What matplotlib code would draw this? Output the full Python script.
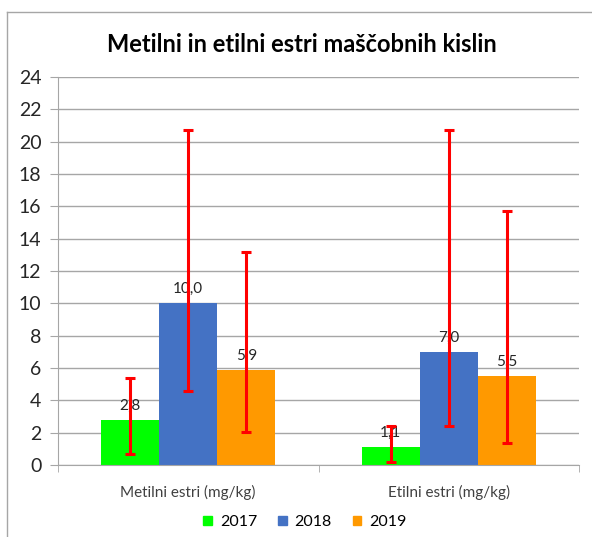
import numpy as np
import matplotlib.pyplot as plt
from matplotlib.patches import Patch
from matplotlib.lines import Line2D

plt.rcParams['font.family'] = ['Lato', 'DejaVu Sans']

categories = ['Metilni estri (mg/kg)', 'Etilni estri (mg/kg)']
years = ['2017', '2018', '2019']
values = {
    '2017': [2.8, 1.1],
    '2018': [10.0, 7.0],
    '2019': [5.9, 5.5],
}
err_low = {
    '2017': [0.7, 0.2],
    '2018': [4.55, 2.4],
    '2019': [2.05, 1.35],
}
err_high = {
    '2017': [5.4, 2.4],
    '2018': [20.75, 20.7],
    '2019': [13.2, 15.7],
}
labels = {
    '2017': ['2,8', '1,1'],
    '2018': ['10,0', '7,0'],
    '2019': ['5,9', '5,5'],
}
colors = {'2017': '#00FF00', '2018': '#4472C4', '2019': '#FF9900'}

W, H = 592, 537
fig = plt.figure(figsize=(W / 100, H / 100), dpi=100)
ax = fig.add_axes([58 / W, 1 - 465 / H, (579 - 58) / W, (465 - 77) / H])

x = np.arange(len(categories))
bw = 0.223
for i, yr in enumerate(years):
    pos = x + (i - 1) * bw
    vals = np.array(values[yr])
    ax.bar(pos, vals, bw, color=colors[yr], zorder=2)
    yerr = [vals - np.array(err_low[yr]), np.array(err_high[yr]) - vals]
    ax.errorbar(pos, vals, yerr=yerr, fmt='none', ecolor='#FF0000',
                elinewidth=2.2, capsize=3.5, capthick=2.2, zorder=4)
    for p, v, t in zip(pos, vals, labels[yr]):
        ax.annotate(t, (p, v), xytext=(0, 5), textcoords='offset points',
                    ha='center', va='bottom', fontsize=11, color='#262626',
                    zorder=3)

ax.set_xlim(-0.5, 1.5)
ax.set_ylim(0, 24)
ax.set_yticks(np.arange(0, 25, 2))
ax.tick_params(axis='y', labelsize=14, length=6, color='#A6A6A6',
               labelcolor='#262626', pad=6)
ax.set_xticks(x)
ax.set_xticklabels(categories, fontsize=11, color='#404040')
ax.set_xticks([-0.5, 0.5, 1.5], minor=True)
ax.tick_params(axis='x', which='major', length=0, pad=14)
ax.tick_params(axis='x', which='minor', length=5, color='#A6A6A6')
ax.grid(axis='y', color='#A6A6A6', linewidth=1)
ax.set_axisbelow(True)
for s in ['top', 'right']:
    ax.spines[s].set_visible(False)
ax.spines['left'].set_color('#A6A6A6')
ax.spines['bottom'].set_color('#A6A6A6')

fig.text(0.51, 1 - 45 / H, 'Metilni in etilni estri maščobnih kislin',
         ha='center', va='center', fontsize=17, fontweight='bold')

handles = [Patch(color=colors[yr], label=yr) for yr in years]
fig.legend(handles=handles, loc='center', bbox_to_anchor=(0.515, 1 - 522 / H),
           ncol=3, frameon=False, fontsize=11.5, handlelength=0.55,
           handleheight=0.55, handletextpad=0.5, columnspacing=1.3)

# chart border
fig.add_artist(Line2D([7 / W, 1], [1 - 11.5 / H] * 2, color='#A6A6A6', lw=1))
fig.add_artist(Line2D([7 / W] * 2, [0, 1 - 11.5 / H], color='#A6A6A6', lw=1))

fig.savefig('out.png', dpi=100)
